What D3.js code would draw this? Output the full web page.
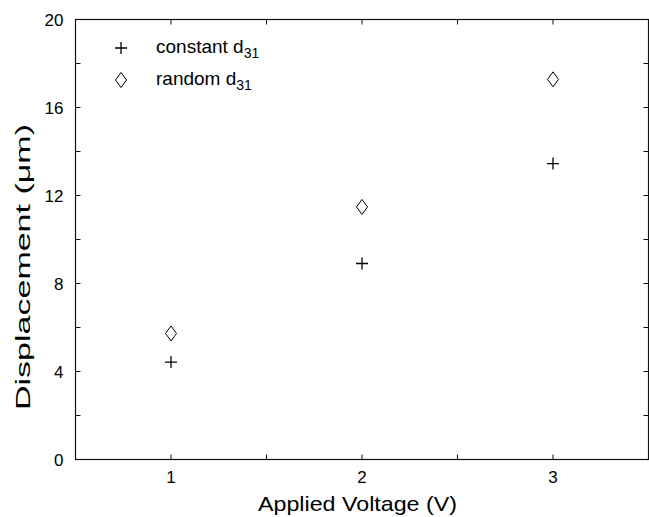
<!DOCTYPE html>
<html>
<head>
<meta charset="utf-8">
<script src="https://cdn.jsdelivr.net/npm/d3@7"></script>
<style>
  html, body { margin: 0; padding: 0; background: #fff; }
  svg { display: block; }
  text { font-family: "Liberation Sans", Arial, Helvetica, sans-serif; fill: #000; }
</style>
</head>
<body>
<script>
// Applied voltage (V)
const voltages = [1, 2, 3];
// Displacement (µm) with a constant d31 coefficient
const constantD31 = [4.43, 8.91, 13.45];
// Displacement (µm) with a random d31 coefficient
const randomD31 = [5.73, 11.48, 17.28];
// Axis ticks
const xTicks = [0.5, 1, 1.5, 2, 2.5, 3, 3.5];
const xTickLabels = [1, 2, 3];
const yTicks = [0, 2, 4, 6, 8, 10, 12, 14, 16, 18, 20];
const yTickLabels = [0, 4, 8, 12, 16, 20];

const W = 649, H = 517;
const margin = { left: 75.5, top: 19.5, right: 0.5, bottom: 58 };
const x0 = margin.left, x1 = W - margin.right;
const y0 = H - margin.bottom, y1 = margin.top;

const svg = d3.select("body").append("svg").attr("width", W).attr("height", H);

const x = d3.scaleLinear().domain([0.5, 3.5]).range([x0, x1]);
const y = d3.scaleLinear().domain([0, 20]).range([y0 + 0.5, y1]);

const tickLen = 5;
const axisColor = "#111";

// Box frame
svg.append("rect")
  .attr("x", x0).attr("y", y1)
  .attr("width", x1 - x0).attr("height", y(0) - y1)
  .attr("fill", "none").attr("stroke", axisColor).attr("stroke-width", 1.2);

// Inward ticks on all four sides
const tickG = svg.append("g").attr("stroke", axisColor).attr("stroke-width", 1);
xTicks.forEach(v => {
  tickG.append("line").attr("x1", x(v)).attr("x2", x(v)).attr("y1", y(0)).attr("y2", y(0) - tickLen);
  tickG.append("line").attr("x1", x(v)).attr("x2", x(v)).attr("y1", y1).attr("y2", y1 + tickLen);
});
yTicks.forEach(v => {
  tickG.append("line").attr("x1", x0).attr("x2", x0 + tickLen).attr("y1", y(v)).attr("y2", y(v));
  tickG.append("line").attr("x1", x1).attr("x2", x1 - tickLen).attr("y1", y(v)).attr("y2", y(v));
});

// Tick labels
svg.append("g").selectAll("text").data(xTickLabels).join("text")
  .attr("x", d => x(d)).attr("y", y(0) + 23)
  .attr("text-anchor", "middle").attr("font-size", 17)
  .text(d => d);
svg.append("g").selectAll("text").data(yTickLabels).join("text")
  .attr("x", x0 - 12).attr("y", d => y(d) + 6)
  .attr("text-anchor", "end").attr("font-size", 17)
  .text(d => d);

// Axis titles
svg.append("text")
  .attr("x", 357.5).attr("y", 511)
  .attr("text-anchor", "middle").attr("font-size", 21)
  .attr("textLength", 199).attr("lengthAdjust", "spacingAndGlyphs")
  .text("Applied Voltage (V)");
svg.append("text")
  .attr("transform", "translate(30,267) rotate(-90)")
  .attr("text-anchor", "middle").attr("font-size", 20)
  .attr("textLength", 286).attr("lengthAdjust", "spacingAndGlyphs")
  .text("Displacement (\u03bcm)");

// Marker shapes
const plusPath = s => `M${-s},0H${s}M0,${-s}V${s}`;
const diamondPath = (w, h) => `M0,${-h}L${w},0L0,${h}L${-w},0Z`;

const marks = svg.append("g");
marks.selectAll("path.const").data(voltages).join("path")
  .attr("class", "const")
  .attr("transform", (d, i) => `translate(${x(d)},${y(constantD31[i])})`)
  .attr("d", plusPath(6))
  .attr("stroke", "#000").attr("stroke-width", 1.3).attr("fill", "none");
marks.selectAll("path.rand").data(voltages).join("path")
  .attr("class", "rand")
  .attr("transform", (d, i) => `translate(${x(d)},${y(randomD31[i])})`)
  .attr("d", diamondPath(5.5, 7.5))
  .attr("stroke", "#000").attr("stroke-width", 1).attr("fill", "none");

// Legend
const legend = svg.append("g");
const legendItems = [
  { name: "constant d", sub: "31", path: plusPath(6), w: 1.3, cy: 48 },
  { name: "random d", sub: "31", path: diamondPath(5.5, 7.5), w: 1, cy: 80 }
];
legendItems.forEach(it => {
  legend.append("path")
    .attr("transform", `translate(121,${it.cy})`)
    .attr("d", it.path).attr("stroke", "#000").attr("stroke-width", it.w).attr("fill", "none");
  const t = legend.append("text").attr("x", 156).attr("y", it.cy + 5).attr("font-size", 19);
  t.append("tspan").text(it.name);
  t.append("tspan").attr("dy", 5).attr("font-size", 14).text(it.sub);
});
</script>
</body>
</html>
